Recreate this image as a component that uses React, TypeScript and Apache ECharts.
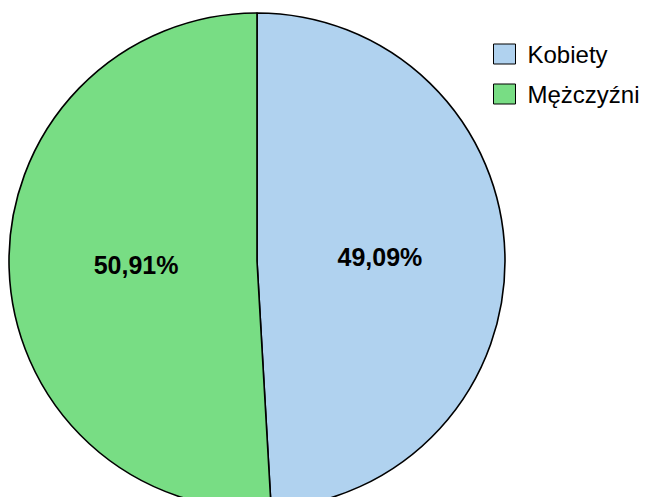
import React, { useEffect, useRef } from "react";
import * as echarts from "echarts";

const categories = ["Kobiety", "Mężczyźni"];
const values = [49.09, 50.91];
const labels = ["49,09%", "50,91%"];
const colors = ["#b0d2ef", "#78dd84"];

export default function App() {
  const ref = useRef<HTMLDivElement>(null);
  useEffect(() => {
    if (!ref.current) return;
    const chart = echarts.init(ref.current, null, { renderer: "svg" });
    const labelPads = [
      [8, 8, 0, 0],
      [4, 0, 0, 12],
    ];
    chart.setOption({
      animation: false,
      backgroundColor: "#ffffff",
      legend: {
        orient: "vertical",
        left: 493,
        top: 42,
        padding: 0,
        itemWidth: 22,
        itemHeight: 20,
        itemGap: 16,
        icon: "rect",
        data: categories,
        textStyle: {
          fontFamily: "Liberation Sans, Arial, sans-serif",
          fontSize: 24,
          color: "#000",
          padding: [0, 0, 0, 7],
        },
        itemStyle: { borderColor: "#000", borderWidth: 1 },
      },
      series: [
        {
          type: "pie",
          center: [257, 261],
          radius: [0, 248],
          startAngle: 90,
          clockwise: true,
          silent: true,
          label: {
            show: true,
            position: "inside",
            fontFamily: "Liberation Sans, Arial, sans-serif",
            fontSize: 25,
            fontWeight: "bold",
            color: "#000",
            formatter: (p: any) => labels[p.dataIndex],
          },
          labelLine: { show: false },
          itemStyle: { borderColor: "#000", borderWidth: 1.6 },
          data: categories.map((name, i) => ({
            name,
            value: values[i],
            itemStyle: { color: colors[i] },
            label: { padding: labelPads[i] },
          })),
        },
      ],
    });
    return () => chart.dispose();
  }, []);
  return (
    <div
      ref={ref}
      style={{ position: "absolute", left: 0, top: 0, width: 648, height: 497 }}
    />
  );
}
